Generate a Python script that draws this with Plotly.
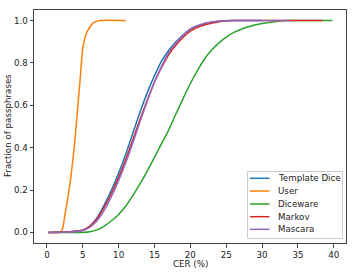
import plotly.graph_objects as go

# ---- data ----
td_x = [0.2, 3, 5, 6, 7, 8, 9, 10, 11, 12, 13, 14, 15, 16, 17, 18, 20, 22, 24, 26, 30]
td_y = [0, 0.003, 0.01, 0.03, 0.07, 0.13, 0.2, 0.28, 0.37, 0.47, 0.57, 0.66, 0.74, 0.81, 0.86, 0.9, 0.96, 0.985, 0.997, 1.0, 1.0]

user_x = [0.2, 1.9, 2.2, 2.5, 3.0, 3.3, 3.8, 4.2, 4.6, 4.8, 5.0, 5.5, 6.0, 6.5, 7.4, 11.0]
user_y = [0, 0, 0.02, 0.08, 0.18, 0.25, 0.4, 0.55, 0.71, 0.8, 0.87, 0.94, 0.97, 0.99, 1.0, 1.0]

dw_x = [0.2, 5, 6, 7, 8, 9, 10, 11, 12, 13, 14, 15, 16, 17, 18, 19, 20, 21, 22, 23, 24, 25, 26, 27, 28, 30, 32, 34, 39.8]
dw_y = [0, 0, 0.003, 0.012, 0.03, 0.055, 0.085, 0.125, 0.175, 0.23, 0.29, 0.355, 0.42, 0.485, 0.56, 0.633, 0.703, 0.765, 0.82, 0.862, 0.895, 0.922, 0.943, 0.958, 0.97, 0.986, 0.996, 1.0, 1.0]

mk_x = [0.2, 3, 5, 6, 7, 8, 9, 10, 11, 12, 13, 14, 15, 16, 17, 18, 20, 22, 24, 26, 30, 38.4]
mk_y = [0, 0.003, 0.01, 0.03, 0.065, 0.12, 0.185, 0.26, 0.345, 0.44, 0.535, 0.625, 0.71, 0.78, 0.84, 0.885, 0.95, 0.98, 0.995, 1.0, 1.0, 1.0]

ms_x = [0.2, 3, 5, 6, 7, 8, 9, 10, 11, 12, 13, 14, 15, 16, 17, 18, 20, 22, 24, 26, 33.8]
ms_y = [0, 0.002, 0.008, 0.025, 0.055, 0.105, 0.17, 0.245, 0.33, 0.425, 0.525, 0.62, 0.71, 0.785, 0.85, 0.895, 0.96, 0.987, 0.998, 1.0, 1.0]

series_names = ["Template Dice", "User", "Diceware", "Markov", "Mascara"]
series_x = [td_x, user_x, dw_x, mk_x, ms_x]
series_y = [td_y, user_y, dw_y, mk_y, ms_y]
colors = ["#1f77b4", "#ff7f0e", "#2ca02c", "#d62728", "#9467bd"]

x_ticks = [0, 5, 10, 15, 20, 25, 30, 35, 40]
y_ticks = [0.0, 0.2, 0.4, 0.6, 0.8, 1.0]

FONT = "DejaVu Sans"
FS = 8.7
W, H = 355, 272
ML, MR, MT, MB = 34, 9, 10, 29


def px2paper(px, py):
    return (px - ML) / (W - ML - MR), 1 - (py - MT) / (H - MT - MB)


fig = go.Figure()
for name, xs, ys, col in zip(series_names, series_x, series_y, colors):
    fig.add_trace(go.Scatter(x=xs, y=ys, name=name, mode="lines", showlegend=False,
                             hoverinfo="skip",
                             line=dict(color=col, width=1.5, shape="spline", smoothing=0.6)))

axis_common = dict(showgrid=False, zeroline=False, showline=True, linecolor="#444",
                   linewidth=1, mirror=True, ticks="outside", ticklen=3.5,
                   tickcolor="#444", automargin=False,
                   tickfont=dict(family=FONT, size=FS, color="#222"))

fig.update_xaxes(range=[-1.8, 41.7], tickvals=x_ticks,
                 ticktext=[str(v) for v in x_ticks], **axis_common)
fig.update_yaxes(range=[-0.05, 1.05], tickvals=y_ticks,
                 ticktext=[f"{v:.1f}" for v in y_ticks], **axis_common)

shapes = []
annotations = []
# legend box
x0, y0 = px2paper(247.5, 171.5)
x1, y1 = px2paper(342.5, 238.5)
shapes.append(dict(type="rect", xref="paper", yref="paper", x0=x0, y0=y0, x1=x1, y1=y1,
                   line=dict(color="#cccccc", width=1), fillcolor="rgba(255,255,255,0.85)",
                   layer="above"))
row_y = [178.3, 191.0, 204.0, 216.7, 229.3]
for name, col, ry in zip(series_names, colors, row_y):
    lx0, ly = px2paper(250, ry)
    lx1, _ = px2paper(269.5, ry)
    shapes.append(dict(type="line", xref="paper", yref="paper", x0=lx0, x1=lx1, y0=ly, y1=ly,
                       line=dict(color=col, width=1.5), layer="above"))
    tx, _ = px2paper(275.5, ry)
    annotations.append(dict(text=name, x=tx, y=ly, xref="paper", yref="paper",
                            showarrow=False, xanchor="left", yanchor="middle",
                            font=dict(family=FONT, size=FS, color="#222")))

cx, cy = px2paper(190, 264)
annotations.append(dict(text="CER (%)", x=cx, y=cy, xref="paper", yref="paper",
                        showarrow=False, xanchor="center", yanchor="middle",
                        font=dict(family=FONT, size=FS, color="#222")))
fx, fy = px2paper(8, 126)
annotations.append(dict(text="Fraction of passphrases", x=fx, y=fy, xref="paper",
                        yref="paper", showarrow=False, textangle=-90, xanchor="center",
                        yanchor="middle", font=dict(family=FONT, size=FS, color="#222")))

fig.update_layout(
    width=W, height=H,
    margin=dict(l=ML, r=MR, t=MT, b=MB),
    plot_bgcolor="white", paper_bgcolor="white",
    font=dict(family=FONT, size=FS, color="#222"),
    showlegend=False,
    hovermode=False,
    shapes=shapes,
    annotations=annotations,
)

fig.write_html("out.html", config={"displayModeBar": False, "staticPlot": True},
               post_script="document.body.style.margin='0';document.body.style.padding='0';")
